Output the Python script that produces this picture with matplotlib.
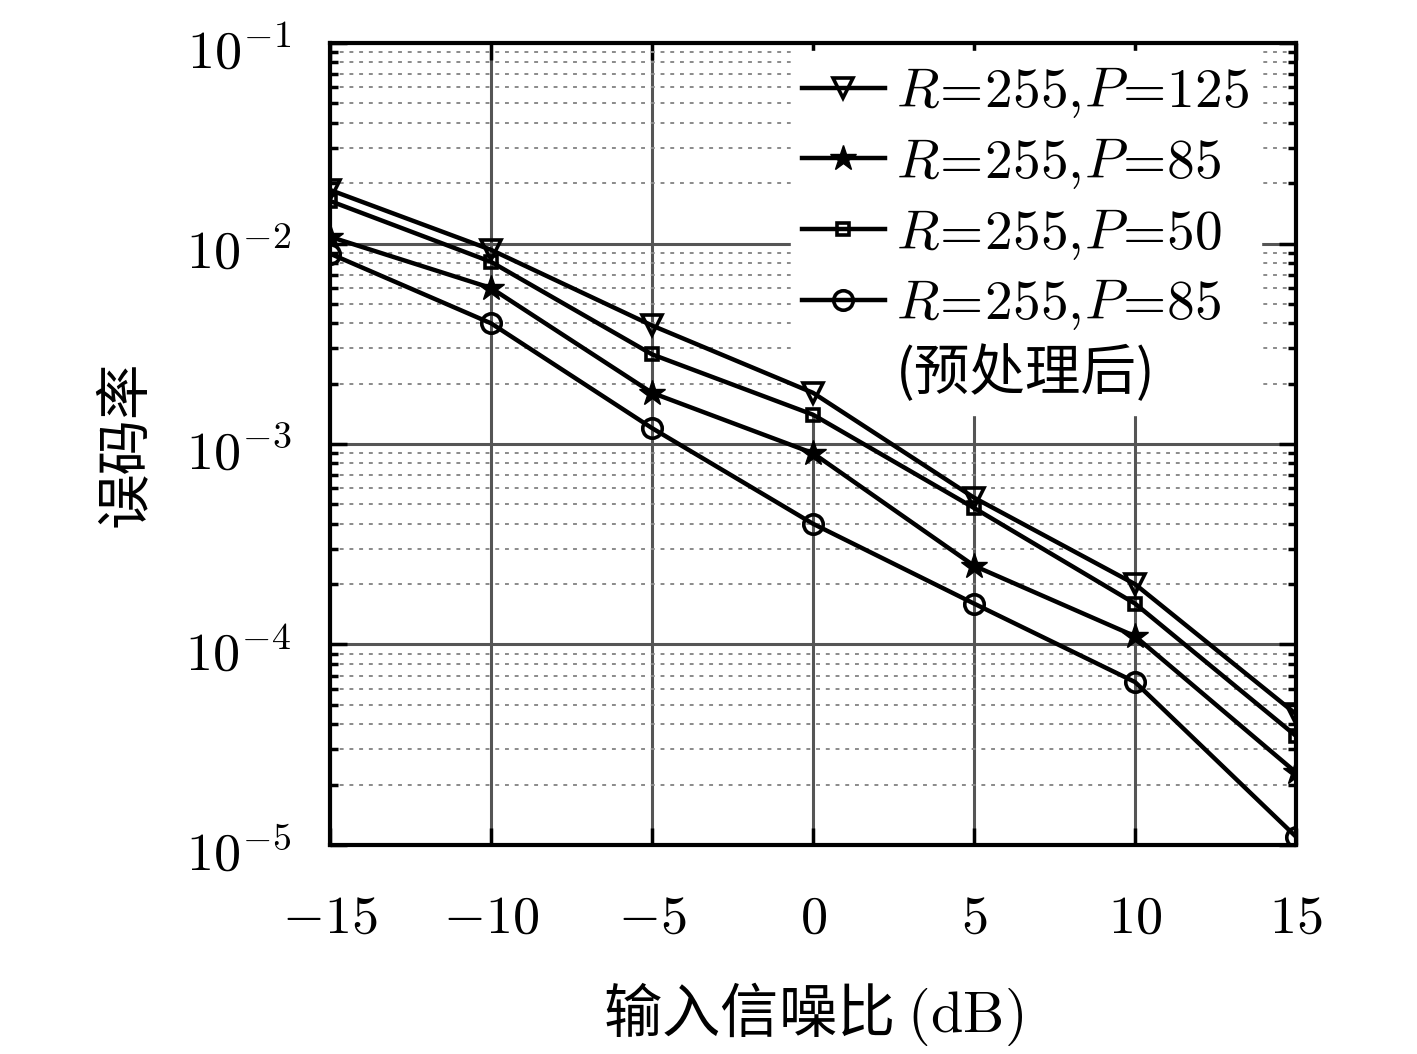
import matplotlib
matplotlib.use("Agg")
import matplotlib.pyplot as plt
import numpy as np
from matplotlib.ticker import FixedLocator, FixedFormatter, LogLocator, NullFormatter
from matplotlib.lines import Line2D
from matplotlib.transforms import ScaledTranslation

plt.rcParams['font.family'] = ['Noto Sans CJK SC', 'DejaVu Sans']
plt.rcParams['mathtext.fontset'] = 'cm'

snr = [-15, -10, -5, 0, 5, 10, 15]
ber_p125 = [0.0185, 0.0093, 0.0039, 0.0018, 5.4e-4, 2.0e-4, 4.5e-5]
ber_p85 = [0.0108, 0.0060, 0.0018, 9.0e-4, 2.47e-4, 1.1e-4, 2.3e-5]
ber_p50 = [0.0163, 0.0081, 0.0028, 0.0014, 4.8e-4, 1.6e-4, 3.5e-5]
ber_p85_pre = [0.0089, 0.0040, 0.0012, 4.0e-4, 1.6e-4, 6.5e-5, 1.1e-5]

labels = [r'$R\!=\!255,\!P\!=\!125$', r'$R\!=\!255,\!P\!=\!85$',
          r'$R\!=\!255,\!P\!=\!50$', r'$R\!=\!255,\!P\!=\!85$']
label_note = '(预处理后)'
xticks = [-15, -10, -5, 0, 5, 10, 15]
xticklabels = [r'$-15$', r'$-10$', r'$-5$', r'$0$', r'$5$', r'$10$', r'$15$']
yticks = [1e-5, 1e-4, 1e-3, 1e-2, 1e-1]
yticklabels = [r'$10^{-5}$', r'$10^{-4}$', r'$10^{-3}$', r'$10^{-2}$', r'$10^{-1}$']

fig = plt.figure(figsize=(14.17, 10.54), dpi=100)
ax = fig.add_axes([0.2329, 0.1983, 0.6817, 0.7609])

lw = 3.2
ax.plot(snr, ber_p125, color='black', lw=lw, marker='v', ms=15, mfc='none', mew=2.6, label=labels[0], zorder=3)
ax.plot(snr, ber_p85, color='black', lw=lw, marker='*', ms=19, mfc='black', mew=1.0, label=labels[1], zorder=3)
ax.plot(snr, ber_p50, color='black', lw=lw, marker='s', ms=9, mfc='none', mew=2.6, label=labels[2], zorder=3)
ax.plot(snr, ber_p85_pre, color='black', lw=lw, marker='o', ms=14, mfc='none', mew=2.6, label=labels[3], zorder=3)

ax.set_yscale('log')
ax.set_xlim(-15, 15)
ax.set_ylim(1e-5, 1e-1)

ax.xaxis.set_major_locator(FixedLocator(xticks))
ax.xaxis.set_major_formatter(FixedFormatter(xticklabels))
ax.yaxis.set_major_locator(FixedLocator(yticks))
ax.yaxis.set_major_formatter(FixedFormatter(yticklabels))
ax.yaxis.set_minor_locator(LogLocator(base=10, subs=np.arange(2, 10)))
ax.yaxis.set_minor_formatter(NullFormatter())

ax.grid(True, which='major', color='#555555', lw=2.2, ls='-')
ax.grid(True, which='minor', axis='y', color='#8a8a8a', lw=1.4, ls=(0, (2, 3)))
ax.set_axisbelow(True)

ax.tick_params(which='both', direction='in', top=True, right=True, width=2.5)
ax.tick_params(which='major', length=12, labelsize=39)
ax.tick_params(axis='x', which='major', pad=32)
ax.tick_params(axis='y', which='major', pad=28)
ax.tick_params(which='minor', length=6)
for s in ax.spines.values():
    s.set_linewidth(3.0)

offset = ScaledTranslation(0, -3 / 72, fig.dpi_scale_trans)
for lab in ax.get_yticklabels():
    lab.set_transform(lab.get_transform() + offset)

ax.set_xlabel('输入信噪比 $(\\mathrm{dB})$', fontsize=42, labelpad=26)
ax.set_ylabel('误码率', fontsize=40, labelpad=22)

handles, hl = ax.get_legend_handles_labels()
handles.append(Line2D([], [], color='none'))
hl.append(label_note)
leg = ax.legend(handles, hl, loc='upper right', fontsize=40, frameon=True, handlelength=1.5,
                handletextpad=0.2, labelspacing=0.24, borderaxespad=0.15, borderpad=0.2,
                bbox_to_anchor=(0.972, 1.0))
leg.get_frame().set_edgecolor('white')
leg.get_frame().set_facecolor('white')
leg.get_frame().set_alpha(1.0)
leg.get_frame().set_boxstyle('square', pad=0)
leg.set_zorder(2.5)

fig.savefig('out.png', dpi=100)
